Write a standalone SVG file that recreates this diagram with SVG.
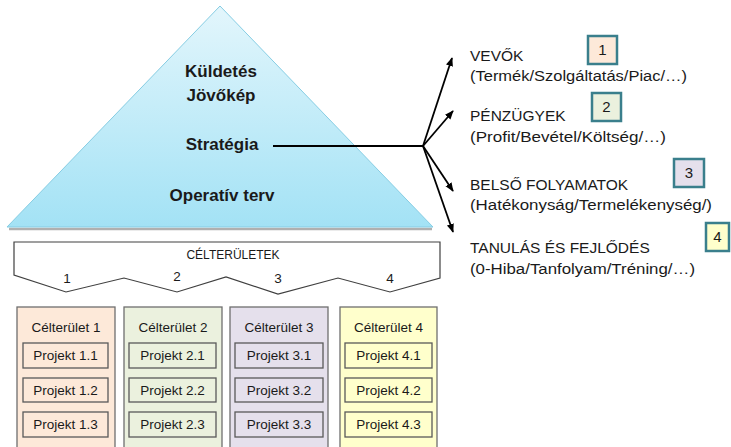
<svg xmlns="http://www.w3.org/2000/svg" width="731" height="447" viewBox="0 0 731 447">
<style>
text{font-family:"Liberation Sans",Arial,sans-serif;fill:#1a1a1a}
.pt{font-weight:bold;font-size:17px;text-anchor:middle}
.rt{font-size:15.5px}
.num{font-size:15px;text-anchor:middle}
.lbl{font-size:13.5px;text-anchor:middle}
.col{stroke:#6f6f6f;stroke-width:1.3}
.inn{stroke:#595959;stroke-width:1.3}
.nb{stroke:#3a7f8c;stroke-width:2.5}
.c1{fill:#fde9d9}.c2{fill:#ebf1de}.c3{fill:#e5e0ec}.c4{fill:#ffffcc}
.arr{stroke:#000;stroke-width:1.8;fill:none;marker-end:url(#ah)}
</style>
<defs>
<linearGradient id="pg" x1="0" y1="0" x2="0" y2="1">
<stop offset="0" stop-color="#e3f6fc"/>
<stop offset="1" stop-color="#a3e2f5"/>
</linearGradient>
<marker id="ah" viewBox="0 0 10 10" refX="9" refY="5" markerWidth="5" markerHeight="5" orient="auto" markerUnits="strokeWidth">
<path d="M0,1 L10,5 L0,9 z" fill="#000"/>
</marker>
</defs>
<rect width="731" height="447" fill="#fff"/>

<g id="pyramid">
<line x1="9" y1="229" x2="432" y2="229" stroke="#b0b0b0" stroke-width="2.5"/>
<polygon points="220,6 7,227 433,227" fill="url(#pg)" stroke="#86cde3" stroke-width="1"/>
<text class="pt" x="221" y="77">Küldetés</text>
<text class="pt" x="221" y="101">Jövőkép</text>
<text class="pt" x="222" y="150">Stratégia</text>
<text class="pt" x="222" y="201">Operatív terv</text>
</g>

<g id="connectors">
<line x1="273" y1="146" x2="423" y2="146" stroke="#000" stroke-width="2"/>
<line class="arr" x1="423" y1="146" x2="452" y2="58"/>
<line class="arr" x1="423" y1="146" x2="453" y2="111"/>
<line class="arr" x1="423" y1="146" x2="453" y2="191"/>
<line class="arr" x1="423" y1="146" x2="453" y2="232"/>
</g>

<g id="perspectives">
<g id="p1">
<text class="rt" x="470" y="61">VEVŐK</text>
<text class="rt" x="470" y="81" textLength="217" lengthAdjust="spacingAndGlyphs">(Termék/Szolgáltatás/Piac/…)</text>
<rect class="nb c1" x="588" y="36" width="29" height="28"/>
<text class="num" x="602.5" y="55">1</text>
</g>
<g id="p2">
<text class="rt" x="470" y="121">PÉNZÜGYEK</text>
<text class="rt" x="470" y="142" textLength="196" lengthAdjust="spacingAndGlyphs">(Profit/Bevétel/Költség/…)</text>
<rect class="nb c2" x="592" y="93" width="29" height="28"/>
<text class="num" x="606.5" y="112">2</text>
</g>
<g id="p3">
<text class="rt" x="470" y="190">BELSŐ FOLYAMATOK</text>
<text class="rt" x="470" y="210" textLength="242" lengthAdjust="spacingAndGlyphs">(Hatékonyság/Termelékenység/)</text>
<rect class="nb c3" x="674" y="159" width="30" height="28"/>
<text class="num" x="689" y="178">3</text>
</g>
<g id="p4">
<text class="rt" x="470" y="253">TANULÁS ÉS FEJLŐDÉS</text>
<text class="rt" x="470" y="274" textLength="225" lengthAdjust="spacingAndGlyphs">(0-Hiba/Tanfolyam/Tréning/…)</text>
<rect class="nb c4" x="706" y="223" width="23" height="28"/>
<text class="num" x="717.5" y="242">4</text>
</g>
</g>

<g id="bracket">
<path d="M14,242 L440,242 L440,278 L390,292 L338,278 L278,294 L226,277 L177,292 L124,278 L66,292 L14,275 Z" fill="#fff" stroke="#404040" stroke-width="1.2"/>
<text x="233" y="259" font-size="12" text-anchor="middle">CÉLTERÜLETEK</text>
<text class="lbl" x="67" y="283">1</text>
<text class="lbl" x="177" y="281">2</text>
<text class="lbl" x="278" y="283">3</text>
<text class="lbl" x="390" y="283">4</text>
</g>

<g id="col1">
<rect class="col c1" x="17" y="307" width="98" height="145"/>
<text class="lbl" x="66" y="332">Célterület 1</text>
<rect class="inn c1" x="23" y="343" width="85" height="25"/>
<text class="lbl" x="65.5" y="360">Projekt 1.1</text>
<rect class="inn c1" x="23" y="378" width="85" height="24"/>
<text class="lbl" x="65.5" y="395">Projekt 1.2</text>
<rect class="inn c1" x="23" y="412" width="85" height="25"/>
<text class="lbl" x="65.5" y="429">Projekt 1.3</text>
</g>
<g id="col2">
<rect class="col c2" x="124" y="307" width="98" height="145"/>
<text class="lbl" x="173" y="332">Célterület 2</text>
<rect class="inn c2" x="129" y="343" width="87" height="25"/>
<text class="lbl" x="172.5" y="360">Projekt 2.1</text>
<rect class="inn c2" x="129" y="378" width="87" height="24"/>
<text class="lbl" x="172.5" y="395">Projekt 2.2</text>
<rect class="inn c2" x="129" y="412" width="87" height="25"/>
<text class="lbl" x="172.5" y="429">Projekt 2.3</text>
</g>
<g id="col3">
<rect class="col c3" x="230" y="307" width="98" height="145"/>
<text class="lbl" x="279" y="332">Célterület 3</text>
<rect class="inn c3" x="235" y="343" width="88" height="25"/>
<text class="lbl" x="279" y="360">Projekt 3.1</text>
<rect class="inn c3" x="235" y="378" width="88" height="24"/>
<text class="lbl" x="279" y="395">Projekt 3.2</text>
<rect class="inn c3" x="235" y="412" width="88" height="25"/>
<text class="lbl" x="279" y="429">Projekt 3.3</text>
</g>
<g id="col4">
<rect class="col c4" x="340" y="307" width="97" height="145"/>
<text class="lbl" x="388.5" y="332">Célterület 4</text>
<rect class="inn c4" x="345" y="343" width="87" height="25"/>
<text class="lbl" x="388.5" y="360">Projekt 4.1</text>
<rect class="inn c4" x="345" y="378" width="87" height="24"/>
<text class="lbl" x="388.5" y="395">Projekt 4.2</text>
<rect class="inn c4" x="345" y="412" width="87" height="25"/>
<text class="lbl" x="388.5" y="429">Projekt 4.3</text>
</g>
</svg>
